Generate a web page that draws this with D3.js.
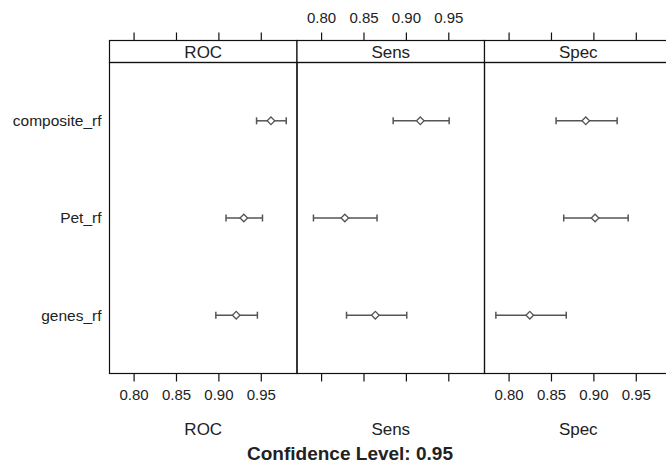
<!DOCTYPE html>
<html>
<head>
<meta charset="utf-8">
<script src="https://cdn.jsdelivr.net/npm/d3@7"></script>
<style>
  body { margin: 0; background: #fff; }
  text { font-family: "Liberation Sans", Arial, Helvetica, sans-serif; fill: #222; }
</style>
</head>
<body>
<svg id="chart"></svg>
<script>
const WIDTH = 666;
const HEIGHT = 463;

// models top to bottom, and the three resampled metrics
const models = ['composite_rf', 'Pet_rf', 'genes_rf'];
const metrics = ['ROC', 'Sens', 'Spec'];
const tickValues = [0.80, 0.85, 0.90, 0.95];

// estimates and 95% interval bounds, same order as models
const rocEstimate = [0.962, 0.930, 0.921];
const rocLower = [0.945, 0.909, 0.897];
const rocUpper = [0.980, 0.952, 0.946];

const sensEstimate = [0.917, 0.828, 0.864];
const sensLower = [0.885, 0.791, 0.830];
const sensUpper = [0.951, 0.866, 0.901];

const specEstimate = [0.891, 0.902, 0.825];
const specLower = [0.856, 0.865, 0.785];
const specUpper = [0.928, 0.941, 0.868];

const confidenceLevel = 0.95;

const left = 109.5;
const panelW = 187.5;
const stripTop = 40.5;
const stripBottom = 62.5;
const panelBottom = 373.5;

const svg = d3.select('#chart')
	.attr('width', WIDTH)
	.attr('height', HEIGHT);

const x = d3.scaleLinear()
	.domain([0.7716, 0.9927])
	.range([0, panelW]);

const y = d3.scalePoint()
	.domain(models)
	.range([stripBottom, panelBottom])
	.padding(0.6);

const panelData = {
	ROC: models.map((m, i) => ({model: m, est: rocEstimate[i], lo: rocLower[i], hi: rocUpper[i]})),
	Sens: models.map((m, i) => ({model: m, est: sensEstimate[i], lo: sensLower[i], hi: sensUpper[i]})),
	Spec: models.map((m, i) => ({model: m, est: specEstimate[i], lo: specLower[i], hi: specUpper[i]}))
};

// row labels
svg.append('g')
	.selectAll('text')
	.data(models)
	.enter()
	.append('text')
	.attr('x', left - 8)
	.attr('y', d => y(d))
	.attr('dy', '0.35em')
	.attr('text-anchor', 'end')
	.attr('font-size', 15.5)
	.text(d => d);

const fmt = d3.format('.2f');

metrics.forEach((metric, p) => {
	const g = svg.append('g').attr('transform', `translate(${left + p * panelW},0)`);

	// strip
	g.append('rect')
		.attr('x', 0).attr('y', stripTop)
		.attr('width', panelW).attr('height', stripBottom - stripTop)
		.attr('fill', 'white').attr('stroke', '#111').attr('stroke-width', 1.2);
	g.append('text')
		.attr('x', panelW / 2)
		.attr('y', (stripTop + stripBottom) / 2)
		.attr('dy', '0.36em')
		.attr('text-anchor', 'middle')
		.attr('font-size', 17)
		.text(metric);

	// panel box
	g.append('rect')
		.attr('x', 0).attr('y', stripBottom)
		.attr('width', panelW).attr('height', panelBottom - stripBottom)
		.attr('fill', 'none').attr('stroke', '#111').attr('stroke-width', 1.2);

	// alternating axes, lattice style: labels bottom for 1 and 3, top for 2
	const topAxis = d3.axisTop(x).tickValues(tickValues).tickSize(8).tickFormat(p === 1 ? fmt : '');
	const bottomAxis = d3.axisBottom(x).tickValues(tickValues).tickSize(8).tickFormat(p === 1 ? '' : fmt);

	const ta = g.append('g').attr('transform', `translate(0,${stripTop})`).call(topAxis);
	const ba = g.append('g').attr('transform', `translate(0,${panelBottom})`).call(bottomAxis);
	[ta, ba].forEach(a => {
		a.select('.domain').remove();
		a.selectAll('line').attr('stroke', '#111').attr('stroke-width', 1.2);
		a.selectAll('text')
			.attr('font-size', 15)
			.attr('fill', '#222')
			.style('font-family', '"Liberation Sans", Arial, sans-serif');
	});
	ta.selectAll('text').attr('dy', '-0.45em');
	ba.selectAll('text').attr('dy', '1.05em');

	// axis title
	g.append('text')
		.attr('x', panelW / 2)
		.attr('y', 429)
		.attr('dy', '0.36em')
		.attr('text-anchor', 'middle')
		.attr('font-size', 17)
		.text(metric);

	const rows = g.append('g')
		.selectAll('g')
		.data(panelData[metric])
		.enter()
		.append('g');

	rows.append('line')
		.attr('x1', d => x(d.lo)).attr('x2', d => x(d.hi))
		.attr('y1', d => y(d.model)).attr('y2', d => y(d.model))
		.attr('stroke', '#555').attr('stroke-width', 1.5);

	rows.append('line')
		.attr('x1', d => x(d.lo)).attr('x2', d => x(d.lo))
		.attr('y1', d => y(d.model) - 3.5).attr('y2', d => y(d.model) + 3.5)
		.attr('stroke', '#555').attr('stroke-width', 1.5);

	rows.append('line')
		.attr('x1', d => x(d.hi)).attr('x2', d => x(d.hi))
		.attr('y1', d => y(d.model) - 3.5).attr('y2', d => y(d.model) + 3.5)
		.attr('stroke', '#555').attr('stroke-width', 1.5);

	rows.append('path')
		.attr('transform', d => `translate(${x(d.est)},${y(d.model)})`)
		.attr('d', 'M0,-3.8L3.8,0L0,3.8L-3.8,0Z')
		.attr('fill', 'white')
		.attr('stroke', '#555')
		.attr('stroke-width', 1.3);
});

svg.append('text')
	.attr('x', 350)
	.attr('y', 453)
	.attr('dy', '0.35em')
	.attr('text-anchor', 'middle')
	.attr('font-size', 19)
	.attr('font-weight', 'bold')
	.text(`Confidence Level: ${confidenceLevel}`);
</script>
</body>
</html>
